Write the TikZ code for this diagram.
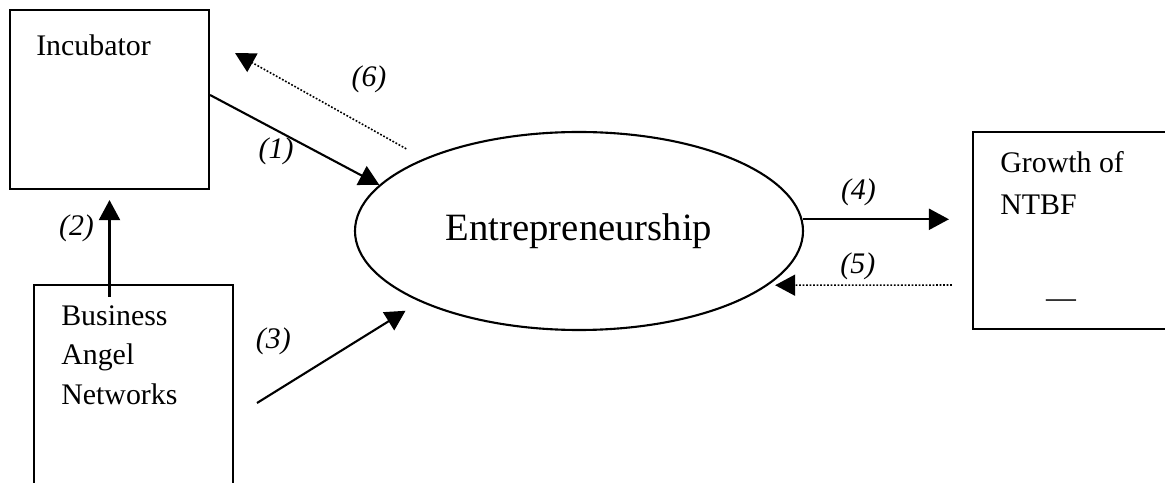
\documentclass[tikz,border=0pt]{standalone}
\usepackage{fontspec}
\setmainfont{Liberation Serif}
\usetikzlibrary{arrows.meta, shapes.geometric}

\tikzset{
  boxnode/.style={draw=black, line width=1.2pt, shape=rectangle, inner sep=0pt},
  txt/.style={font=\fontsize{17}{22.5}\selectfont, align=left, inner sep=0pt},
  lbl/.style={font=\fontsize{17}{20}\selectfont\itshape, inner sep=0pt},
  arr/.style={-{Triangle[length=0.4cm, width=0.42cm]}, line width=1.2pt},
  dotarr/.style={arr, line width=0.9pt, dash pattern=on 1pt off 1pt},
}

\begin{document}
\begin{tikzpicture}
\useasboundingbox (0,0) rectangle (23.3,9.64);

\node[boxnode, minimum width=3.98cm, minimum height=3.58cm] (incub) at (2.19,7.65) {};
\node[boxnode, minimum width=3.98cm, minimum height=4.14cm] (ban) at (2.67,1.87) {};
\node[boxnode, minimum width=3.94cm, minimum height=3.94cm] (growth) at (21.43,5.03) {};
\node[draw=black, line width=1.2pt, shape=ellipse, inner sep=0pt, minimum width=8.96cm, minimum height=3.96cm, font=\fontsize{22}{26}\selectfont] (entre) at (11.58,5.02) {Entrepreneurship};

\node[txt, anchor=north west] (incub_txt) at ([xshift=0.54cm, yshift=-0.5cm]incub.north west) {Incubator};
\node[txt, anchor=north west] (ban_txt) at ([xshift=0.56cm, yshift=-0.42cm]ban.north west) {Business\\Angel\\Networks};
\node[txt, anchor=north west, font=\fontsize{17}{23.8}\selectfont] (growth_txt) at ([xshift=0.56cm, yshift=-0.4cm]growth.north west) {Growth of\\NTBF};
\node[txt] (growth_dash) at (21.22,3.56) {\textemdash};

\draw[arr] ([yshift=0.09cm]incub.east) -- node[lbl, pos=0.39, below=0.13cm] (lab1) {(1)} (entre.167);
\coordinate (c6) at (4.7,8.58);
\draw[dotarr, shorten <=0.4cm] (entre.155) -- node[lbl, pos=0.29, above=0.69cm] (lab6) {(6)} (c6);
\draw[arr] ([yshift=-0.26cm]ban.north -| incub.south) -- node[lbl, pos=0.71, left=0.29cm] (lab2) {(2)} ([yshift=-0.2cm]incub.south);
\coordinate (c3) at (5.14,1.58);
\draw[arr, shorten >=0.34cm] (c3) -- node[lbl, pos=0.1, above=0.73cm] (lab3) {(3)} (entre.204);
\draw[arr, shorten >=0.46cm] (entre.3) -- node[lbl, pos=0.33, above=0.25cm] (lab4) {(4)} (entre.3 -| growth.west);
\draw[dotarr, shorten <=0.4cm, shorten >=0.14cm] ([yshift=-1.09cm]growth.west) -- node[lbl, pos=0.56, above=0.09cm] (lab5) {(5)} (entre.344);
\end{tikzpicture}
\end{document}
